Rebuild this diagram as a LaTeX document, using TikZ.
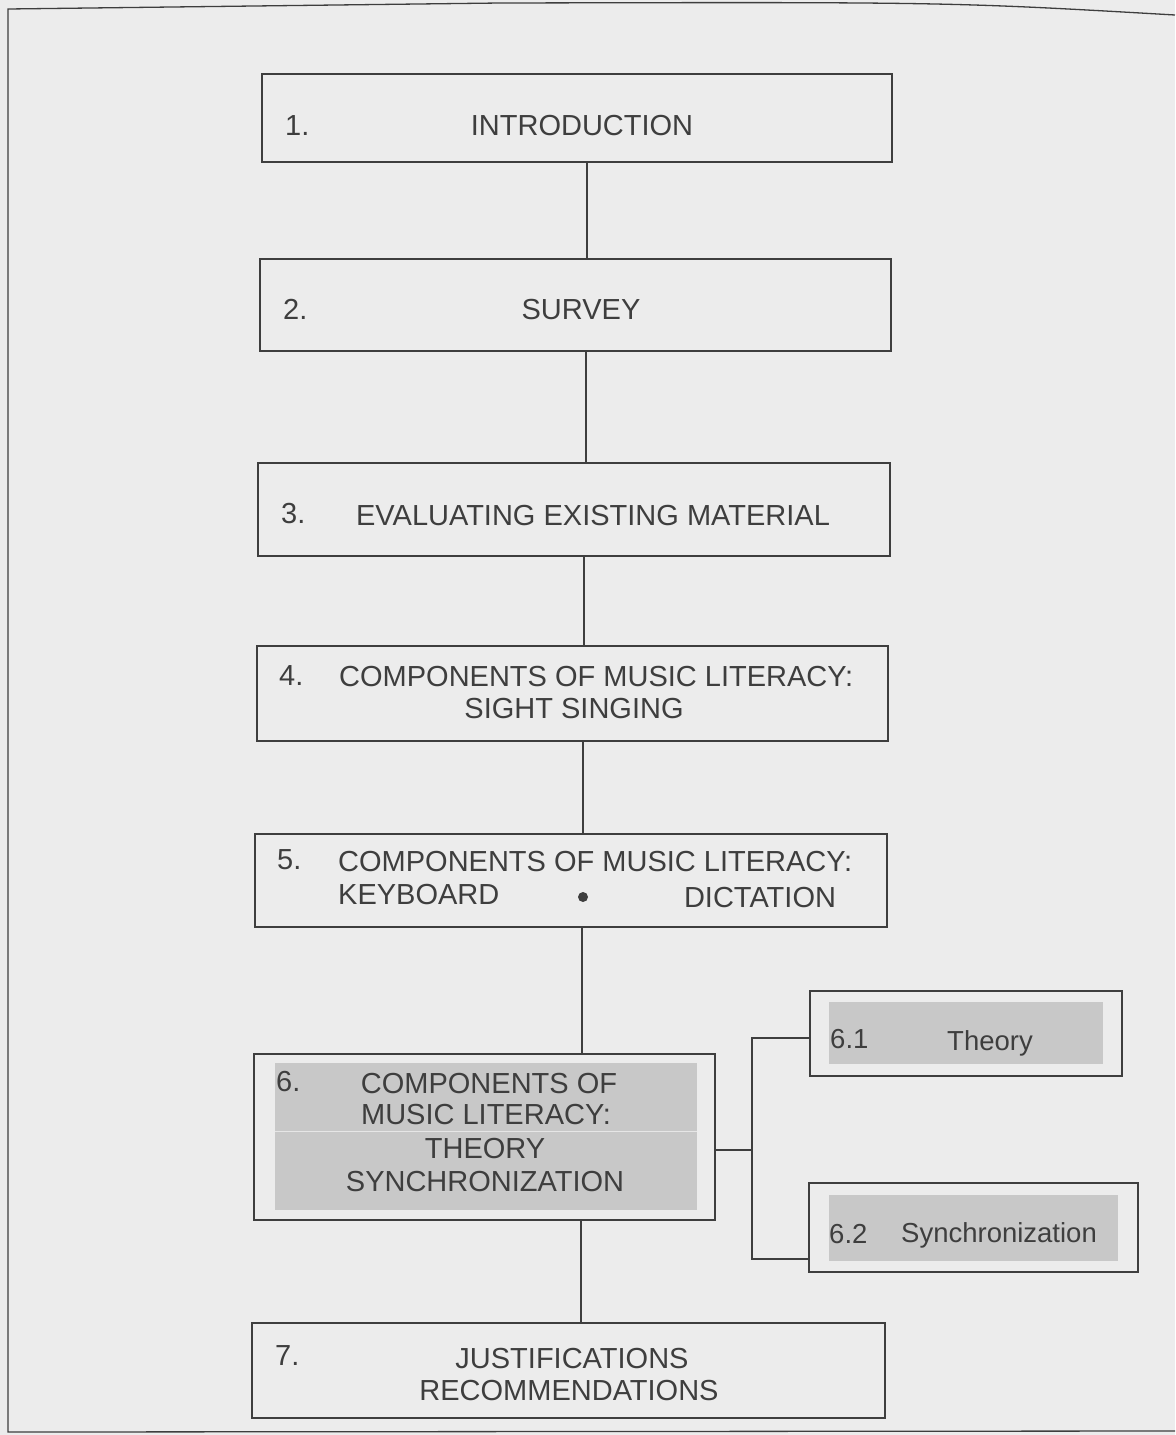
\documentclass[tikz,border=0pt]{standalone}
\usepackage{fontspec}
\setmainfont{Liberation Sans}
\usetikzlibrary{calc}
\definecolor{paper}{RGB}{236,236,236}
\definecolor{ink}{RGB}{62,62,62}
\definecolor{greyfill}{RGB}{200,200,200}
\tikzset{
  box/.style={draw=ink,line width=1.8pt,inner sep=0pt},
  link/.style={draw=ink,line width=1.7pt},
  txt/.style={anchor=base,inner sep=0pt,text=ink,font=\fontsize{29}{33}\selectfont},
  num/.style={txt,anchor=base west},
  small/.style={font=\fontsize{27.5}{33}\selectfont}
}

\begin{document}
\begin{tikzpicture}[x=1pt,y=-1pt]
  \fill[paper] (0,0) rectangle (1175,1435);
  \draw[ink,line width=1.3pt] (1175,15) .. controls (950,2) .. (500,3) -- (8,9) -- (8,1432) -- (1175,1431);

  \fill[greyfill] (275,1063) rectangle (697,1210);
  \draw[white!55!greyfill,line width=1pt] (275,1131) -- (697,1131);
  \fill[greyfill] (829,1002) rectangle (1103,1064);
  \fill[greyfill] (829,1195) rectangle (1118,1261);

  \foreach \n/\x/\y/\w/\h in {b1/577/118/630/88, b2/575.5/305/631/92, b3/574/509.5/632/93,
      b4/572.5/693.5/631/95, b5/571/880.5/632/93, b6/484.5/1137/461/166,
      b61/966/1033.5/312/85, b62/973.5/1227.5/329/89, b7/568.5/1370.5/633/95}
    \node[box,minimum width=\w pt,minimum height=\h pt] (\n) at (\x,\y) {};

  \foreach \a/\b/\x in {b1/b2/587, b2/b3/586, b3/b4/584, b4/b5/583, b5/b6/582, b6/b7/581}
    \draw[link] (\a.south -| \x,0) -- (\b.north -| \x,0);
  \draw[link] (b61.west |- 0,1038) -| (752,1259) -- (b62.west |- 0,1259);
  \draw[link] (b6.east |- 0,1150) -- (752,1150);

  \foreach \n/\t/\x/\y in {n1/1./285/135, n2/2./283/319, n3/3./281/523, n4/4./279/685,
      n5/5./277/869, n6/6./276/1091, n7/7./275/1365}
    \node[num] (\n) at (\x,\y) {\t};

  \node[txt] (t1) at (582,135) {INTRODUCTION};
  \node[txt] (t2) at (581,319) {SURVEY};
  \node[txt] (t3) at (593,525) {EVALUATING EXISTING MATERIAL};
  \node[num] (t4a) at (339,686) {COMPONENTS OF MUSIC LITERACY:};
  \node[txt] (t4b) at (574,718) {SIGHT SINGING};
  \node[num] (t5a) at (338,871) {COMPONENTS OF MUSIC LITERACY:};
  \node[num] (t5b) at (338,904) {KEYBOARD};
  \fill[ink] (583,897) circle (5pt);
  \node[txt] (t5c) at (760,907) {DICTATION};
  \node[txt] (t6a) at (489,1093) {COMPONENTS OF};
  \node[txt] (t6b) at (486,1124) {MUSIC LITERACY:};
  \node[txt] (t6c) at (485,1158) {THEORY};
  \node[txt] (t6d) at (485,1191) {SYNCHRONIZATION};
  \node[num,small] (n61) at (830,1048) {6.1};
  \node[txt,small] (t61) at (990,1050) {Theory};
  \node[num,small] (n62) at (829,1243) {6.2};
  \node[txt,small] (t62) at (999,1242) {Synchronization};
  \node[txt] (t7a) at (572,1368) {JUSTIFICATIONS};
  \node[txt] (t7b) at (569,1400) {RECOMMENDATIONS};
\end{tikzpicture}
\end{document}
